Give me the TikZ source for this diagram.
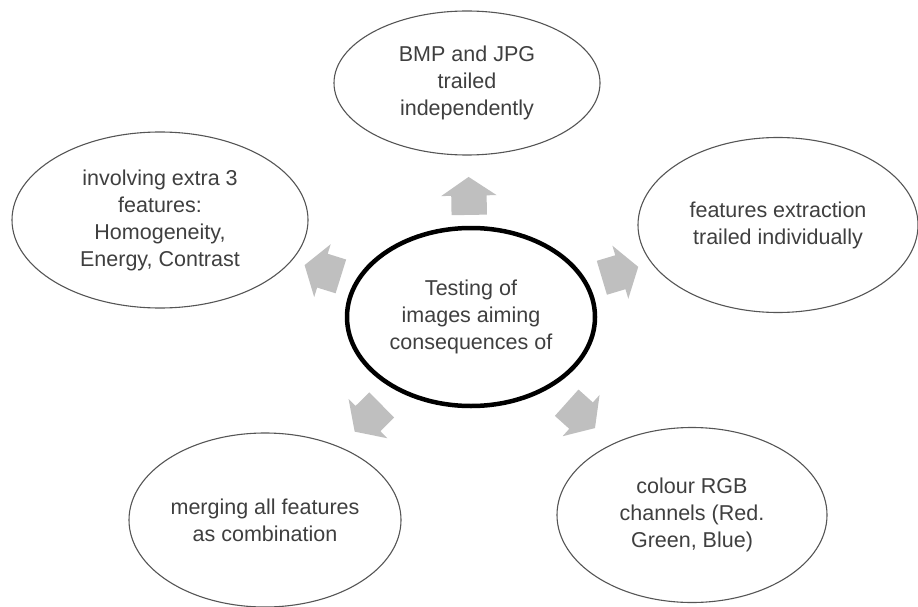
\documentclass[tikz,border=0pt]{standalone}
\usepackage{fontspec}
\setmainfont{Liberation Sans}
\usepackage{xcolor}
\usetikzlibrary{shapes.geometric,shapes.arrows}
\definecolor{inkgray}{HTML}{3F3F3F}
\definecolor{rimgray}{HTML}{555555}
\definecolor{arrowgray}{HTML}{BFBFBF}

\begin{document}
\begin{tikzpicture}[x=1pt, y=-1pt,
	every node/.style={font=\fontsize{21.5}{27}\selectfont, text=inkgray, align=center, inner sep=0pt},
	bubble/.style={ellipse, draw=rimgray, line width=1.1pt, fill=white},
	hub/.style={ellipse, draw=black, line width=4.5pt, minimum width=248pt, minimum height=178pt},
	blockarrow/.style={single arrow, fill=arrowgray, draw=none, inner xsep=0pt, inner ysep=17.5pt,
		minimum height=38pt, minimum width=55pt, single arrow head extend=10pt,
		single arrow tip angle=112, sloped, allow upside down}]
	\useasboundingbox (0,0) rectangle (918,607);
	% centre
	\node[hub] (testing) at (471,317) {Testing of\\images aiming\\consequences of};
	% outer bubbles
	\node[bubble, minimum width=266pt, minimum height=144pt] (bmp) at (467,83) {BMP and JPG\\trailed\\independently};
	\node[bubble, minimum width=280pt, minimum height=175pt] (extract) at (778,225) {features extraction\\trailed individually};
	\node[bubble, minimum width=270pt, minimum height=175pt] (rgb) at (692,515) {colour RGB\\channels (Red.\\Green, Blue)};
	\node[bubble, minimum width=272pt, minimum height=174pt] (merge) at (265,520) {merging all features\\as combination};
	\node[bubble, minimum width=296pt, minimum height=176pt] (extra) at (160,220) {involving extra 3\\features:\\Homogeneity,\\Energy, Contrast};
	% arrows
	\foreach \target/\where in {bmp/0.34,extract/0.42,rgb/0.42,merge/0.42,extra/0.42}
		\path (testing) -- node[blockarrow, pos=\where] {} (\target);
\end{tikzpicture}
\end{document}
